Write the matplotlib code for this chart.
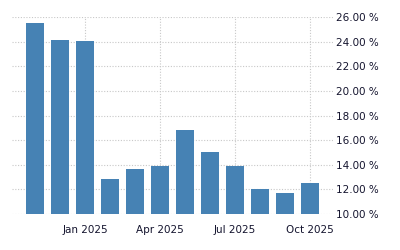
import matplotlib
matplotlib.use("Agg")
import matplotlib.pyplot as plt

months = ["Nov 2024", "Dec 2024", "Jan 2025", "Feb 2025", "Mar 2025", "Apr 2025",
          "May 2025", "Jun 2025", "Jul 2025", "Aug 2025", "Sep 2025", "Oct 2025"]
rates = [25.5, 24.1, 24.05, 12.85, 13.65, 13.9, 16.8, 15.0, 13.9, 12.0, 11.7, 12.5]
tick_months = ["Jan 2025", "Apr 2025", "Jul 2025", "Oct 2025"]
y_ticks = [10, 12, 14, 16, 18, 20, 22, 24, 26]

fig = plt.figure(figsize=(4, 2.5), dpi=100)
ax = fig.add_axes([0.03, 0.144, 0.8025, 0.788])

x = list(range(len(months)))
ax.bar(x, rates, width=0.72, color="#4682b4", zorder=2)

ax.set_xlim(-0.92, len(months) - 1 + 0.92)
ax.set_ylim(10, 26)

ax.set_xticks([months.index(m) for m in tick_months])
ax.set_xticklabels(tick_months)
ax.set_yticks(y_ticks)
ax.set_yticklabels(["%.2f %%" % v for v in y_ticks])

ax.yaxis.tick_right()
ax.tick_params(axis="both", length=0, labelsize=7.5, colors="#14142e", pad=2)
ax.tick_params(axis="x", pad=8)

ax.grid(True, color="#c8c8c8", linestyle=(0, (1, 1.5)), linewidth=0.8, zorder=0)
for s in ax.spines.values():
    s.set_visible(False)

fig.savefig("out.png", dpi=100)
